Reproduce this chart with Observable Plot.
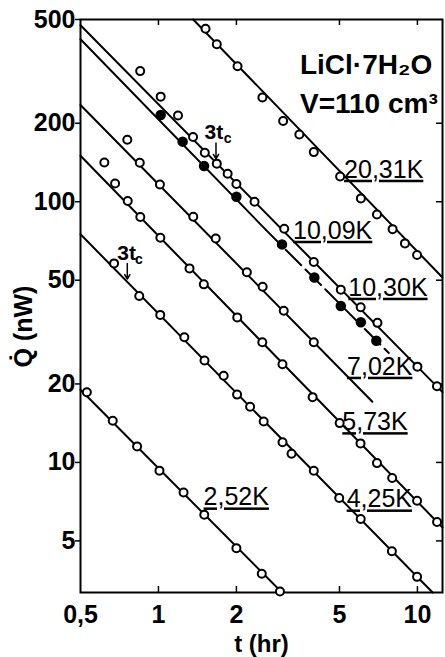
<!DOCTYPE html>
<html><head><meta charset="utf-8">
<script src="https://cdn.jsdelivr.net/npm/d3@7"></script>
<script src="https://cdn.jsdelivr.net/npm/@observablehq/plot@0.6"></script>
<style>body{margin:0;background:#fff;} svg{display:block;}</style>
</head><body><div id="chart"></div>
<script>
// ---- data (t in hr, Q in nW) ----
const t2031 = [1.52, 1.68, 2.02, 2.52, 3.03, 3.50, 3.98, 5.03, 6.05, 6.98, 8.02, 8.95, 9.97];
const q2031 = [461, 402, 331, 251, 204, 181, 155, 125, 103, 89.3, 78.5, 69.2, 62.5];
const t1030 = [0.85, 1.02, 1.19, 1.36, 1.51, 1.68, 1.85, 2.0, 2.35, 3.06, 3.98, 5.06, 6.04, 7.01, 10.0, 11.9];
const q1030 = [317, 253, 214, 177, 154, 140, 128, 117, 100, 78.8, 58.7, 46.0, 39.4, 34.3, 23.3, 19.6];
const t1009 = [1.02, 1.24, 1.50, 2.0, 3.0, 4.0, 5.06, 6.05, 6.94];
const q1009 = [215, 170, 137, 104.5, 68.6, 51.2, 39.8, 34.5, 29.3];
const t702 = [0.758, 0.847, 1.013, 1.363, 1.664, 2.195, 2.526, 3.047, 3.98];
const q702 = [173, 141, 116.5, 87.6, 72.3, 53.6, 47.2, 38.2, 28.9];
const t573 = [0.618, 0.68, 0.761, 0.851, 1.017, 1.318, 1.497, 2.015, 2.518, 3.012, 3.939, 5.01, 6.03, 6.98, 7.99, 9.97, 11.91];
const q573 = [141.5, 117.5, 100.6, 87.4, 72.8, 55.5, 48.2, 36.0, 28.9, 23.8, 17.8, 14.15, 11.83, 9.94, 8.71, 7.13, 5.91];
const t425 = [0.674, 0.843, 1.016, 1.259, 1.506, 1.786, 2.012, 2.259, 2.549, 3.014, 3.265, 3.98, 4.99, 6.04, 7.97, 9.97];
const q425 = [58.0, 43.5, 36.8, 30.2, 24.6, 21.5, 18.2, 16.35, 14.36, 11.95, 10.8, 9.29, 7.30, 6.07, 4.56, 3.64];
const t252 = [0.529, 0.666, 0.827, 1.009, 1.25, 1.503, 2.0, 2.506, 2.946];
const q252 = [18.6, 14.46, 11.52, 9.30, 7.67, 6.30, 4.69, 3.74, 3.20];

// fitted straight lines (end points)
const fit2031T = [1.362, 12.5], fit2031Q = [500, 51.2];
const fit1030T = [0.5, 12.5],   fit1030Q = [475, 18.6];
const fit1009T = [0.5, 2.6],    fit1009Q = [420, 78];      // solid part
const fit1009DT = [2.6, 7.75],  fit1009DQ = [78, 26.3];    // dashed part
const fit702T = [0.5, 6.7],     fit702Q = [235, 17.1];
const fit573T = [0.5, 12.5],    fit573Q = [150, 5.63];
const fit425T = [0.5, 11.45],   fit425Q = [75, 3.17];
const fit252T = [0.5, 3.0],     fit252Q = [19.0, 3.17];

// curve labels
const labelText = ["20,31K", "10,09K", "10,30K", "7,02K", "5,73K", "4,25K", "2,52K"];
const labelT = [5.21, 3.31, 5.41, 5.35, 5.13, 5.33, 1.494];
const labelQ = [123.6, 72.1, 43.6, 21.7, 13.3, 6.72, 6.84];

// 3t_c markers
const tcT = [1.506, 0.694], tcQ = [174.3, 59.9];
const subT = [1.786, 0.812], subQ = [168.3, 57.9];
const arrT = [1.668, 0.758], arrQ1 = [168, 58], arrQ2 = [146, 50.5];

// titles
const titleLines = ["LiCl·7H₂O", "V=110 cm³"];
const titleT = [3.52, 3.52], titleQ = [309, 219];

// axes
const xTicks = [0.5, 1, 2, 5, 10];
const xTickLabels = ["0,5", "1", "2", "5", "10"];
const yTicks = [5, 10, 20, 50, 100, 200, 500];
const yTickLabels = ["5", "10", "20", "50", "100", "200", "500"];
const innerX = [1, 2, 5, 10];
const innerY = [5, 10, 20, 50, 100, 200];
const xTitle = "t (hr)", yTitle = "Q\u0307 (nW)";

// ---- build tables ----
const toRows = (T, Q, extra) => T.map((t, i) => ({t, q: Q[i], ...extra}));
const openPts = [
  ...toRows(t2031, q2031), ...toRows(t1030, q1030), ...toRows(t702, q702),
  ...toRows(t573, q573), ...toRows(t425, q425), ...toRows(t252, q252)];
const filledPts = toRows(t1009, q1009);
const solidLines = [
  ...toRows(fit2031T, fit2031Q, {id: "a"}), ...toRows(fit1030T, fit1030Q, {id: "b"}),
  ...toRows(fit1009T, fit1009Q, {id: "c"}), ...toRows(fit702T, fit702Q, {id: "d"}),
  ...toRows(fit573T, fit573Q, {id: "e"}), ...toRows(fit425T, fit425Q, {id: "f"}),
  ...toRows(fit252T, fit252Q, {id: "g"})];
const dashedLine = toRows(fit1009DT, fit1009DQ);
const labels = labelText.map((s, i) => ({s, t: labelT[i], q: labelQ[i]}));
const tcs = tcT.map((t, i) => ({t, q: tcQ[i], ts: subT[i], qs: subQ[i], ta: arrT[i], q1: arrQ1[i], q2: arrQ2[i]}));
const titles = titleLines.map((s, i) => ({s, t: titleT[i], q: titleQ[i]}));

const chart = Plot.plot({
  width: 445, height: 657,
  marginLeft: 80, marginRight: 3, marginTop: 19, marginBottom: 65,
  style: {fontFamily: "'Liberation Sans', Arial, sans-serif", background: "white", color: "black"},
  x: {type: "log", domain: [0.5, 12.5]},
  y: {type: "log", domain: [3.17, 500]},
  marks: [
    Plot.axisY({ticks: yTicks, tickFormat: d => yTickLabels[yTicks.indexOf(d)], tickSize: 5, tickPadding: 0, fontSize: 25, fontWeight: "bold", label: null, strokeWidth: 1.5}),
    Plot.axisX({ticks: xTicks, tickFormat: d => xTickLabels[xTicks.indexOf(d)], tickSize: 0, tickPadding: 13, fontSize: 25, fontWeight: "bold", label: null}),
    Plot.ruleX(innerX, {insetTop: 567, strokeWidth: 1.5}),
    Plot.ruleX(innerX, {insetBottom: 567, strokeWidth: 1.5}),
    Plot.ruleY(innerY, {insetLeft: 356, strokeWidth: 1.5}),
    Plot.frame({stroke: "black", strokeWidth: 2}),
    Plot.line(solidLines, {x: "t", y: "q", z: "id", stroke: "black", strokeWidth: 2}),
    Plot.line(dashedLine, {x: "t", y: "q", stroke: "black", strokeWidth: 2, strokeDasharray: "22,6"}),
    Plot.dot(openPts, {x: "t", y: "q", r: 4, fill: "white", stroke: "black", strokeWidth: 2}),
    Plot.dot(filledPts, {x: "t", y: "q", r: 4.5, fill: "black", stroke: "black"}),
    Plot.text(labels, {x: "t", y: "q", text: "s", textAnchor: "start", lineAnchor: "bottom", fontSize: 25, fill: "black"}),
    Plot.text(titles, {x: "t", y: "q", text: "s", textAnchor: "start", lineAnchor: "bottom", fontSize: 28, fontWeight: "bold", fill: "black"}),
    Plot.text(tcs, {x: "t", y: "q", text: () => "3t", textAnchor: "start", lineAnchor: "bottom", fontSize: 21, fontWeight: "bold", fill: "black"}),
    Plot.text(tcs, {x: "ts", y: "qs", text: () => "c", textAnchor: "start", lineAnchor: "bottom", fontSize: 14, fontWeight: "bold", fill: "black"}),
    Plot.arrow(tcs, {x1: "ta", x2: "ta", y1: "q1", y2: "q2", stroke: "black", strokeWidth: 1.5, headLength: 6}),
    Plot.text([xTitle], {text: d => d, frameAnchor: "bottom", lineAnchor: "bottom", dy: 59, fontSize: 24, fontWeight: "bold", fill: "black"}),
    Plot.text([yTitle], {text: d => d, frameAnchor: "left", rotate: -90, textAnchor: "start", lineAnchor: "bottom", dx: -49, dy: 61.5, fontSize: 25, fontWeight: "bold", fill: "black"})
  ]
});
d3.select(chart).selectAll("text").filter(function() { return /K$/.test(this.textContent); })
  .style("text-decoration", "underline");
document.getElementById("chart").appendChild(chart);
</script></body></html>
